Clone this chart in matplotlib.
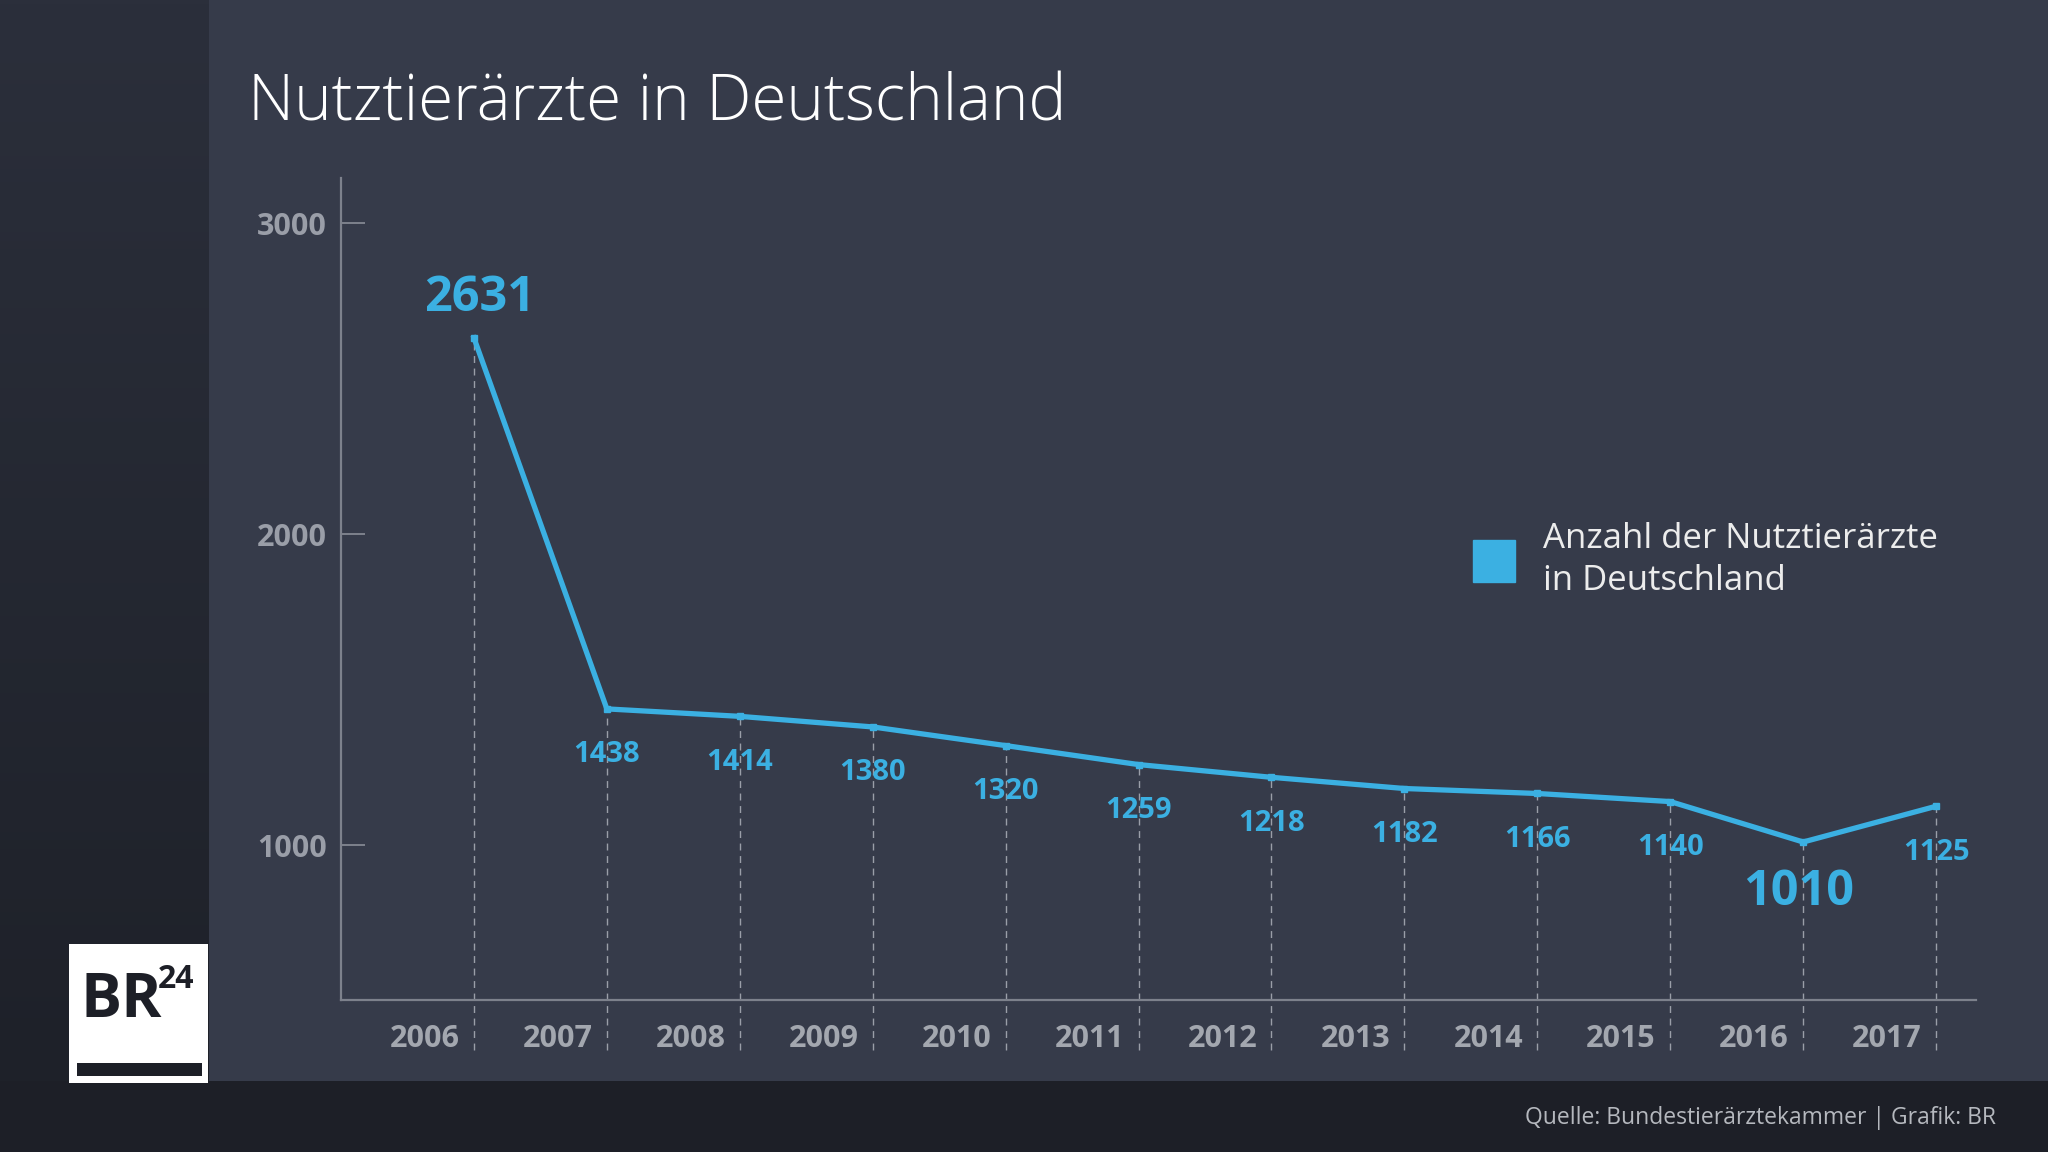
import numpy as np
import matplotlib.pyplot as plt
from matplotlib.patches import Rectangle
from matplotlib.lines import Line2D
from matplotlib.colors import LinearSegmentedColormap

plt.rcParams['font.family'] = ['Open Sans', 'DejaVu Sans']

years = np.arange(2006, 2018)
vets = [2631, 1438, 1414, 1380, 1320, 1259, 1218, 1182, 1166, 1140, 1010, 1125]
y_ticks = [1000, 2000, 3000]
title = 'Nutztierärzte in Deutschland'
legend_label = 'Anzahl der Nutztierärzte\nin Deutschland'
source = 'Quelle: Bundestierärztekammer | Grafik: BR'

BLUE = '#3bb0e2'
GREY = '#9a9ea8'
W, H = 2048, 1152

fig = plt.figure(figsize=(20.48, 11.52), dpi=100)
fig.patch.set_facecolor('#363b4a')

# background panels, pixel coords
bg = fig.add_axes([0, 0, 1, 1])
bg.axis('off')
grad = np.linspace(0, 1, 256).reshape(-1, 1)
panel_cmap = LinearSegmentedColormap.from_list('p', ['#2b2f3b', '#1e2129'])
bg.imshow(grad, cmap=panel_cmap, extent=[0, 209, 1081, 0], aspect='auto')
bg.add_patch(Rectangle((0, 1081), W, H - 1081, color='#1d1f27', lw=0))
# BR24 logo
bg.add_patch(Rectangle((69, 944), 139, 139, color='white', lw=0))
bg.add_patch(Rectangle((77, 1063), 125, 13, color='#1d1f27', lw=0))
bg.text(80, 1017, 'BR', fontsize=44, color='#1d1f27', weight='bold',
        va='baseline', ha='left')
bg.text(158, 988, '24', fontsize=23, color='#1d1f27', weight='bold',
        va='baseline', ha='left')
bg.set_xlim(0, W)
bg.set_ylim(H, 0)

# main chart
ax = fig.add_axes([341 / W, 1 - 1000 / H, (1976 - 341) / W, (1000 - 178) / H])
ax.set_facecolor('none')
ax.set_xlim(2005.0, 2017.3)
ax.set_ylim(502, 3145)

for s in ['top', 'right']:
    ax.spines[s].set_visible(False)
for s in ['left', 'bottom']:
    ax.spines[s].set_color('#7d818c')
    ax.spines[s].set_linewidth(1.6)

ax.set_yticks(y_ticks)
ax.set_yticklabels([str(t) for t in y_ticks])
ax.tick_params(axis='y', direction='in', length=17, width=1.4, color='#7d818c',
               labelsize=22, labelcolor=GREY, pad=10)
for lab in ax.get_yticklabels():
    lab.set_fontweight('bold')

ax.set_xticks(years - 0.37)
ax.set_xticklabels([str(y) for y in years])
ax.tick_params(axis='x', length=0, labelsize=22, labelcolor='#a3a7af', pad=17)
for lab in ax.get_xticklabels():
    lab.set_fontweight('bold')

ax.vlines(years, 340, vets, colors='#9a9ea8', linestyles=(0, (5, 4)),
          linewidth=1.0, clip_on=False, zorder=1)
ax.plot(years, vets, color=BLUE, lw=3.8, marker='s', markersize=4,
        solid_joinstyle='miter', zorder=3)

imax = int(np.argmax(vets))
imin = int(np.argmin(vets))
for i, (x, v) in enumerate(zip(years, vets)):
    if i == imax:
        ax.annotate(str(v), (x, v), xytext=(4, 28), textcoords='offset points',
                    ha='center', va='center', fontsize=35, weight='bold', color=BLUE)
    elif i == imin:
        ax.annotate(str(v), (x, v), xytext=(-3, -36), textcoords='offset points',
                    ha='center', va='center', fontsize=35, weight='bold', color=BLUE)
    else:
        ax.annotate(str(v), (x, v), xytext=(0, -33), textcoords='offset points',
                    ha='center', va='center', fontsize=21, weight='bold', color=BLUE)

handle = Line2D([], [], marker='s', color='none', markerfacecolor=BLUE,
                markeredgecolor=BLUE, markersize=30)
leg = fig.legend([handle], [legend_label], loc='center left',
                 bbox_to_anchor=(1456 / W, 1 - 560 / H), frameon=False,
                 fontsize=25, handlelength=1.2, handletextpad=0.8,
                 borderpad=0, labelcolor='#ececec')
for t in leg.get_texts():
    t.set_linespacing(1.3)

fig.text(248 / W, 1 - 104 / H, title, fontsize=46, color='white',
         weight='light', va='center', ha='left')
fig.text(1996 / W, 1 - 1118 / H, source, fontsize=16.5, color='#b5b8be',
         va='center', ha='right')

fig.savefig('out.png', dpi=100, facecolor=fig.get_facecolor())
